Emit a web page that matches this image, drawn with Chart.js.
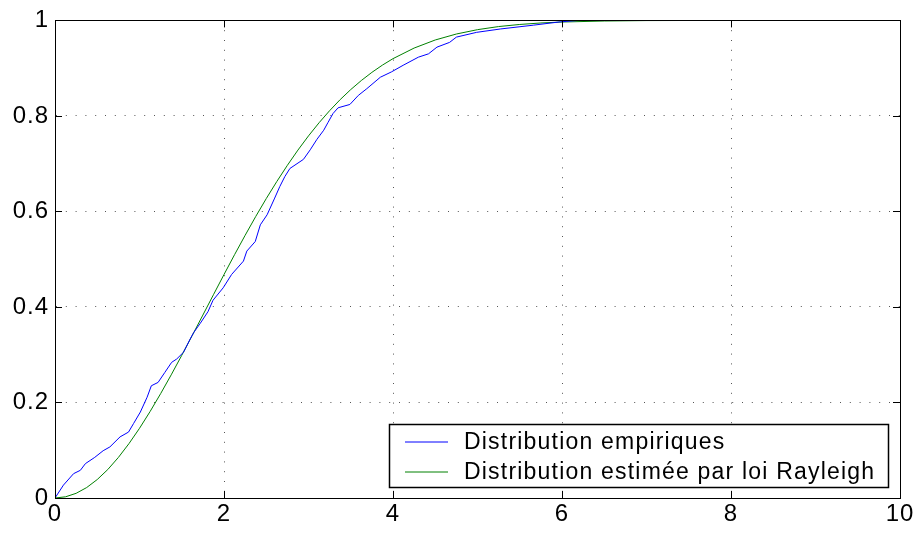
<!DOCTYPE html>
<html>
<head>
<meta charset="utf-8">
<script src="https://cdn.jsdelivr.net/npm/chart.js@4/dist/chart.umd.min.js"></script>
<style>
  html, body { margin: 0; padding: 0; background: #fff; }
  canvas { display: block; }
</style>
</head>
<body>
<canvas id="c" width="920" height="540"></canvas>
<script>
const empX = [0, 0.10, 0.22, 0.30, 0.36, 0.47, 0.57, 0.65, 0.77, 0.87, 0.93, 1.01, 1.09, 1.14, 1.22, 1.30,
  1.38, 1.44, 1.52, 1.60, 1.64, 1.72, 1.81, 1.87, 1.99, 2.09, 2.23, 2.27, 2.37, 2.43, 2.51, 2.60, 2.66,
  2.72, 2.78, 2.94, 3.02, 3.10, 3.18, 3.23, 3.29, 3.35, 3.49, 3.59, 3.69, 3.85, 3.98, 4.12, 4.30, 4.42,
  4.52, 4.67, 4.75, 4.99, 5.27, 5.66, 5.98, 6.20, 10];
const empY = [0, 0.027, 0.051, 0.058, 0.072, 0.085, 0.099, 0.107, 0.128, 0.138, 0.156, 0.180, 0.211, 0.235,
  0.242, 0.263, 0.284, 0.291, 0.305, 0.333, 0.346, 0.366, 0.390, 0.414, 0.440, 0.468, 0.496, 0.517, 0.537,
  0.572, 0.593, 0.628, 0.652, 0.673, 0.690, 0.709, 0.729, 0.751, 0.770, 0.786, 0.805, 0.817, 0.824, 0.843,
  0.857, 0.881, 0.892, 0.906, 0.923, 0.930, 0.944, 0.954, 0.965, 0.975, 0.982, 0.990, 0.997, 1, 1];

// fitted Rayleigh CDF
const rayX = [0, 0.125, 0.25, 0.375, 0.5, 0.625, 0.75, 0.875, 1, 1.125, 1.25, 1.375, 1.5, 1.625, 1.75, 1.875,
  2, 2.125, 2.25, 2.375, 2.5, 2.625, 2.75, 2.875, 3, 3.125, 3.25, 3.375, 3.5, 3.625, 3.75, 3.875, 4,
  4.25, 4.5, 4.75, 5, 5.25, 5.5, 5.75, 6, 6.5, 7, 8, 10];
const rayY = [0, 0.0025, 0.0098, 0.0219, 0.0387, 0.0597, 0.0849, 0.1138, 0.1459, 0.1810, 0.2185, 0.2578,
  0.2987, 0.3406, 0.3831, 0.4256, 0.4679, 0.5095, 0.5500, 0.5893, 0.6269, 0.6627, 0.6966, 0.7285, 0.7582,
  0.7857, 0.8110, 0.8342, 0.8552, 0.8741, 0.8912, 0.9064, 0.9199, 0.9421, 0.9590, 0.9715, 0.9806, 0.9871,
  0.9915, 0.9946, 0.9966, 0.9987, 0.9996, 1, 1];

const xTicks = [0, 2, 4, 6, 8, 10];
const yTicks = [0, 0.2, 0.4, 0.6, 0.8, 1];
const labels = ['Distribution empiriques', 'Distribution estimée par loi Rayleigh'];

const FONT = '"Liberation Sans", Arial, Helvetica, sans-serif';

function pts(xs, ys){
  let out = [];
  for(let i = 0; i < xs.length; i++) out.push({'x':xs[i],'y':ys[i]});
  return out;
}

// box, inward ticks on all four sides and a legend inside the plot
const matlabBox = {
  id: 'matlabBox',
  beforeDraw(chart){
    // the reference text is spaced a little wider than Liberation Sans
    chart.ctx.letterSpacing = '1px';
  },
  afterDatasetsDraw(chart){
    const ctx = chart.ctx, a = chart.chartArea;
    const sx = chart.scales.x, sy = chart.scales.y;
    const tick = 7;
    ctx.save();
    ctx.strokeStyle = '#000';
    ctx.lineWidth = 1;
    ctx.beginPath();
    xTicks.forEach(function(v){
      const p = Math.round(sx.getPixelForValue(v)) + 0.5;
      ctx.moveTo(p, a.bottom); ctx.lineTo(p, a.bottom - tick);
      ctx.moveTo(p, a.top); ctx.lineTo(p, a.top + tick);
    });
    yTicks.forEach(function(v){
      const p = Math.round(sy.getPixelForValue(v)) + 0.5;
      ctx.moveTo(a.left, p); ctx.lineTo(a.left + tick, p);
      ctx.moveTo(a.right, p); ctx.lineTo(a.right - tick, p);
    });
    ctx.stroke();
    ctx.strokeRect(Math.round(a.left) + 0.5, Math.round(a.top) + 0.5, Math.round(a.right - a.left), Math.round(a.bottom - a.top));

    // legend
    const lx = 389.5, ly = 424.5, lw = 499, lh = 63;
    ctx.fillStyle = '#fff';
    ctx.fillRect(lx, ly, lw, lh);
    ctx.lineWidth = 1.5;
    ctx.strokeRect(lx, ly, lw, lh);
    ctx.font = '23px ' + FONT;
    ctx.letterSpacing = '1.2px';
    ctx.textBaseline = 'middle';
    ctx.textAlign = 'left';
    chart.data.datasets.forEach(function(ds, i){
      const yy = ly + 17.5 + i * 30;
      ctx.strokeStyle = ds.borderColor;
      ctx.lineWidth = 1;
      ctx.beginPath();
      ctx.moveTo(405, yy); ctx.lineTo(448, yy);
      ctx.stroke();
      ctx.fillStyle = '#000';
      ctx.fillText(ds.label, 464, yy + 0.5);
    });
    ctx.restore();
  }
};

const gridOpt = {color: '#555', drawTicks: false, lineWidth: 1};
const borderOpt = {display: true, color: '#000', dash: [1, 8.8]};

new Chart(document.getElementById('c'), {
  type: 'scatter',
  data: {
    datasets: [
      {label: labels[0], data: pts(empX, empY), showLine: true, borderColor: '#0000ff', borderWidth: 1, pointRadius: 0, tension: 0},
      {label: labels[1], data: pts(rayX, rayY), showLine: true, borderColor: '#008000', borderWidth: 1, pointRadius: 0, tension: 0}
    ]
  },
  options: {
    responsive: false,
    animation: false,
    devicePixelRatio: 1,
    layout: {padding: {top: 18, right: 20, left: 0, bottom: 0}},
    plugins: {legend: {display: false}, tooltip: {enabled: false}},
    scales: {
      x: {
        type: 'linear', min: 0, max: 10,
        afterBuildTicks: function(s){ s.ticks = xTicks.map(function(v){ return {value: v}; }); },
        afterFit: function(s){ s.height = 42; },
        ticks: {color: '#000', font: {family: FONT, size: 24}, padding: 2, maxRotation: 0},
        grid: gridOpt,
        border: borderOpt
      },
      y: {
        type: 'linear', min: 0, max: 1,
        afterBuildTicks: function(s){ s.ticks = yTicks.map(function(v){ return {value: v}; }); },
        afterFit: function(s){ s.width = 55; },
        ticks: {color: '#000', font: {family: FONT, size: 24}, padding: 6,
          callback: function(v){ return String(Math.round(v * 10) / 10); }},
        grid: gridOpt,
        border: borderOpt
      }
    }
  },
  plugins: [matlabBox]
});
</script>
</body>
</html>
